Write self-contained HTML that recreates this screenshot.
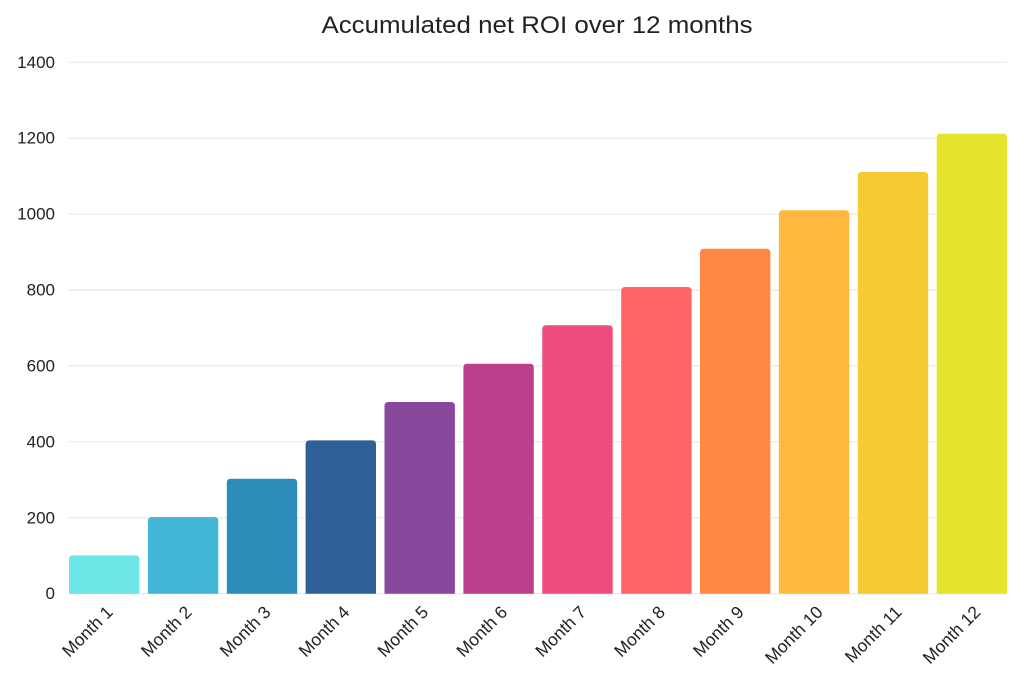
<!DOCTYPE html>
<html>
<head>
<meta charset="utf-8">
<style>
html,body{margin:0;padding:0;background:#fff;}
svg{display:block;}
text{font-family:"Liberation Sans",sans-serif;fill:#222;}
</style>
</head>
<body>
<svg width="1024" height="683" viewBox="0 0 1024 683" xmlns="http://www.w3.org/2000/svg">
<text x="537" y="33" font-size="24" text-anchor="middle" textLength="431" lengthAdjust="spacingAndGlyphs" fill="#111">Accumulated net ROI over 12 months</text>
<g stroke="#e8e8e8" stroke-width="1.2">
<line x1="69" y1="62.3" x2="1007" y2="62.3"/>
<line x1="69" y1="138.2" x2="1007" y2="138.2"/>
<line x1="69" y1="214.1" x2="1007" y2="214.1"/>
<line x1="69" y1="290.0" x2="1007" y2="290.0"/>
<line x1="69" y1="365.9" x2="1007" y2="365.9"/>
<line x1="69" y1="441.8" x2="1007" y2="441.8"/>
<line x1="69" y1="517.8" x2="1007" y2="517.8"/>
<line x1="69" y1="593.7" x2="1007" y2="593.7"/>
</g>
<g font-size="17" text-anchor="end" dominant-baseline="central">
<text x="55" y="62.3">1400</text>
<text x="55" y="138.2">1200</text>
<text x="55" y="214.1">1000</text>
<text x="55" y="290.0">800</text>
<text x="55" y="365.9">600</text>
<text x="55" y="441.8">400</text>
<text x="55" y="517.8">200</text>
<text x="55" y="593.7">0</text>
</g>
<g>
<path d="M69 593.7V559.4Q69 555.4 73 555.4H135.4Q139.4 555.4 139.4 559.4V593.7Z" fill="#6de6e8"/>
<path d="M147.9 593.7V521Q147.9 517 151.9 517H214.3Q218.3 517 218.3 521V593.7Z" fill="#42b8d6"/>
<path d="M226.8 593.7V482.7Q226.8 478.7 230.8 478.7H293.2Q297.2 478.7 297.2 482.7V593.7Z" fill="#2d8cba"/>
<path d="M305.6 593.7V444.4Q305.6 440.4 309.6 440.4H372Q376 440.4 376 444.4V593.7Z" fill="#2e5f97"/>
<path d="M384.5 593.7V406Q384.5 402 388.5 402H450.9Q454.9 402 454.9 406V593.7Z" fill="#88489e"/>
<path d="M463.4 593.7V367.7Q463.4 363.7 467.4 363.7H529.8Q533.8 363.7 533.8 367.7V593.7Z" fill="#bb3f8b"/>
<path d="M542.3 593.7V329.3Q542.3 325.3 546.3 325.3H608.7Q612.7 325.3 612.7 329.3V593.7Z" fill="#ee4c7e"/>
<path d="M621.2 593.7V291Q621.2 287 625.2 287H687.6Q691.6 287 691.6 291V593.7Z" fill="#ff6468"/>
<path d="M700 593.7V252.7Q700 248.7 704 248.7H766.4Q770.4 248.7 770.4 252.7V593.7Z" fill="#ff8847"/>
<path d="M778.9 593.7V214.3Q778.9 210.3 782.9 210.3H845.3Q849.3 210.3 849.3 214.3V593.7Z" fill="#ffb73e"/>
<path d="M857.8 593.7V176Q857.8 172 861.8 172H924.2Q928.2 172 928.2 176V593.7Z" fill="#f5cb31"/>
<path d="M936.7 593.7V137.7Q936.7 133.7 940.7 133.7H1003.1Q1007.1 133.7 1007.1 137.7V593.7Z" fill="#e6e32d"/>
</g>
<g font-size="17.5" text-anchor="end" dominant-baseline="central">
<text transform="translate(109.7,609) rotate(-45)">Month 1</text>
<text transform="translate(188.6,609) rotate(-45)">Month 2</text>
<text transform="translate(267.5,609) rotate(-45)">Month 3</text>
<text transform="translate(346.3,609) rotate(-45)">Month 4</text>
<text transform="translate(425.2,609) rotate(-45)">Month 5</text>
<text transform="translate(504.1,609) rotate(-45)">Month 6</text>
<text transform="translate(583,609) rotate(-45)">Month 7</text>
<text transform="translate(661.9,609) rotate(-45)">Month 8</text>
<text transform="translate(740.7,609) rotate(-45)">Month 9</text>
<text transform="translate(819.6,609) rotate(-45)">Month 10</text>
<text transform="translate(898.5,609) rotate(-45)">Month 11</text>
<text transform="translate(977.4,609) rotate(-45)">Month 12</text>
</g>
</svg>
</body>
</html>
